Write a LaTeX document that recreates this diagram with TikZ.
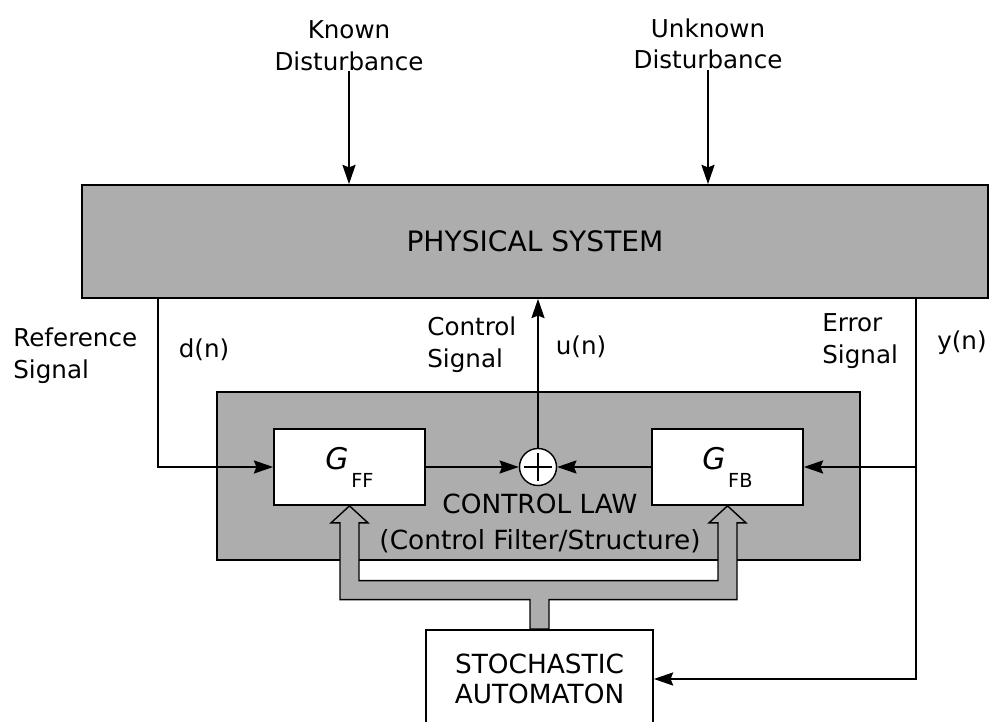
\documentclass[tikz,border=0pt]{standalone}
\usepackage{fontspec}
\setmainfont{DejaVu Sans}
\usetikzlibrary{arrows.meta,calc}
\newcommand{\gsub}[1]{{\itshape G}\kern1.5pt\raisebox{-1.1ex}{\fontsize{11}{12}\selectfont #1}}

\begin{document}
\begin{tikzpicture}[
  sig/.style={black, thick, -{Stealth[length=11pt,width=7.5pt,inset=1.5pt]}},
  grayblock/.style={draw=black, line width=1pt, fill=black!32},
  block/.style={draw=black, line width=1pt, fill=white, minimum width=3.02cm, minimum height=1.52cm, font=\fontsize{17}{18}\selectfont},
  lbl/.style={font=\fontsize{14}{18}\selectfont, align=left, inner sep=0pt},
]
\useasboundingbox (0,0) rectangle (19.8,14.44);
\clip (0,0) rectangle (19.8,14.44);

% plant
\node[grayblock, minimum width=18.12cm, minimum height=2.26cm, font=\fontsize{16}{19}\selectfont] (phys) at (10.7,9.61) {PHYSICAL SYSTEM};
\node[lbl, align=center] (kd) at (6.98,13.52) {Known\\Disturbance};
\node[lbl, align=center] (ud) at (14.16,13.56) {Unknown\\Disturbance};
\draw[sig] (kd.south) -- (kd.south |- phys.north);
\draw[sig] (ud.south) -- (ud.south |- phys.north);

% control law
\node[grayblock, minimum width=12.86cm, minimum height=3.36cm] (law) at (10.77,4.92) {};
\node[lbl, align=center, font=\fontsize{15}{21}\selectfont] (lawtxt) at (10.8,3.97) {CONTROL LAW\\(Control Filter/Structure)};
\node[block] (ff) at (6.99,5.10) {\gsub{FF}};
\node[block] (fb) at (14.55,5.10) {\gsub{FB}};
\node[draw=black, thick, circle, fill=white, minimum size=0.74cm, inner sep=0pt,
  path picture={\draw[line width=1.1pt] ([yshift=-2.5pt]path picture bounding box.north) -- ([yshift=2.5pt]path picture bounding box.south)
    ([xshift=2.5pt]path picture bounding box.west) -- ([xshift=-2.5pt]path picture bounding box.east);}] (sum) at (10.76,5.10) {};
\node[draw=black, line width=1pt, fill=white, minimum width=4.54cm, minimum height=1.96cm, align=center, font=\fontsize{15}{17}\selectfont] (automaton) at (10.79,0.86) {STOCHASTIC\\AUTOMATON};

% signals
\coordinate (dtap) at (3.16,5.10);
\coordinate (etap) at (18.32,5.10);
\draw[sig] (dtap |- phys.south) -- (dtap) -- (ff.west);
\draw[sig] (ff.east) -- (sum.west);
\draw[sig] (fb.west) -- (sum.east);
\draw[sig] (sum.north) -- (sum.north |- phys.south);
\draw[sig] (etap |- phys.south) -- (etap |- automaton.east) -- (automaton.east);
\draw[sig] (etap) -- (fb.east);

\node[lbl, anchor=west] (refl) at (0.26,7.32) {Reference\\Signal};
\node[lbl] (dn) at (4.08,7.44) {d(n)};
\node[lbl, anchor=west] (ctl) at (8.54,7.54) {Control\\Signal};
\node[lbl] (un) at (11.62,7.5) {u(n)};
\node[lbl, anchor=west] (errl) at (16.44,7.62) {Error\\Signal};
\node[lbl] (yn) at (19.24,7.58) {y(n)};

% adaptation arrows
\coordinate (bar) at ($(automaton.north)+(0,0.78)$);
\coordinate (barff) at (ff.south |- bar);
\coordinate (barfb) at (fb.south |- bar);
\filldraw[draw=black, line width=0.8pt, fill=black!32, line join=miter]
  ($(automaton.north)+(-0.19,0)$) -- ($(bar)+(-0.19,-0.19)$) -- ($(barff)+(-0.19,-0.19)$)
  -- ($(ff.south)+(-0.19,-0.34)$) -- ($(ff.south)+(-0.37,-0.34)$) -- (ff.south)
  -- ($(ff.south)+(0.37,-0.34)$) -- ($(ff.south)+(0.19,-0.34)$) -- ($(barff)+(0.19,0.19)$)
  -- ($(barfb)+(-0.19,0.19)$) -- ($(fb.south)+(-0.19,-0.34)$) -- ($(fb.south)+(-0.37,-0.34)$)
  -- (fb.south) -- ($(fb.south)+(0.37,-0.34)$) -- ($(fb.south)+(0.19,-0.34)$)
  -- ($(barfb)+(0.19,-0.19)$) -- ($(bar)+(0.19,-0.19)$) -- ($(automaton.north)+(0.19,0)$) -- cycle;
\end{tikzpicture}
\end{document}
